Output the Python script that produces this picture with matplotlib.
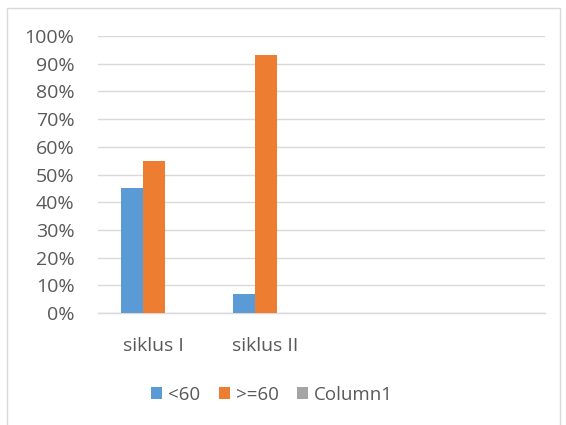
import matplotlib
matplotlib.use("Agg")
import matplotlib.pyplot as plt
import numpy as np
from matplotlib.patches import Rectangle

categories = ["siklus I", "siklus II", "", ""]
below60 = [0.45, 0.07, np.nan, np.nan]
above60 = [0.55, 0.93, np.nan, np.nan]
column1 = [np.nan, np.nan, np.nan, np.nan]
series_names = ["<60", ">=60", "Column1"]
yticks = [0, 0.1, 0.2, 0.3, 0.4, 0.5, 0.6, 0.7, 0.8, 0.9, 1.0]
ytick_labels = ["0%", "10%", "20%", "30%", "40%", "50%", "60%", "70%", "80%", "90%", "100%"]

colors = ["#5B9BD5", "#ED7D31", "#A5A5A5"]
text_color = "#595959"
plt.rcParams['font.family'] = ['Open Sans', 'DejaVu Sans']

W, H = 566, 425
fig = plt.figure(figsize=(W / 100, H / 100), dpi=100)
fig.patch.set_facecolor("white")

# outer chart border
fig.patches.append(Rectangle((7 / W, -0.01), (560 - 7) / W, (H - 8) / H + 0.01,
                             transform=fig.transFigure, fill=False,
                             edgecolor="#d9d9d9", linewidth=1.0))

ax = fig.add_axes([98 / W, (H - 313) / H, (545 - 98) / W, (313 - 36) / H])
x = np.arange(len(categories))
bw = 22 / 112
for i, (vals, c, name) in enumerate(zip([below60, above60, column1], colors, series_names)):
    ax.bar(x + (i - 1) * bw, vals, width=bw, color=c, label=name, zorder=3)

ax.set_xlim(-0.5, len(categories) - 0.5)
ax.set_ylim(0, 1.0)
ax.set_yticks(yticks)
ax.set_yticklabels(ytick_labels)
ax.set_xticks(x)
ax.set_xticklabels(categories)
ax.yaxis.grid(True, color="#d9d9d9", linewidth=1.0, zorder=0)
ax.set_axisbelow(True)
for s in ["top", "right", "left"]:
    ax.spines[s].set_visible(False)
ax.spines["bottom"].set_color("#d9d9d9")
ax.spines["bottom"].set_linewidth(1.0)
ax.tick_params(axis="both", length=0, colors=text_color, labelsize=14)
ax.tick_params(axis="y", pad=17)
ax.tick_params(axis="x", pad=17)

leg = fig.legend(loc="center", bbox_to_anchor=(272 / W, (H - 395) / H), ncol=3,
                 frameon=False, fontsize=13.5, handlelength=0.6, handleheight=0.6,
                 handletextpad=0.3, columnspacing=1.0, labelcolor=text_color)

fig.savefig("out.png", dpi=100, facecolor="white")
